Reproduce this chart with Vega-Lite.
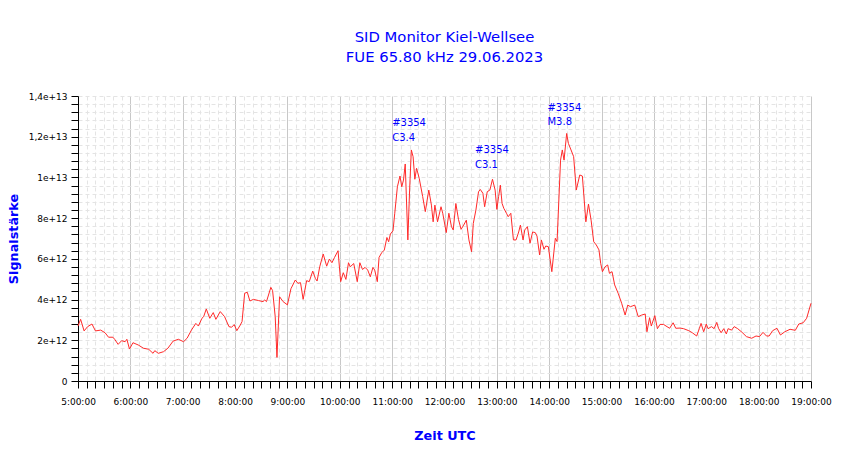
{
  "$schema": "https://vega.github.io/schema/vega-lite/v6.json",
  "autosize": {"type": "none"},
  "padding": {"left": 78, "top": 96, "right": 39, "bottom": 78},
  "width": 733,
  "height": 285,
  "background": "white",
  "config": {"view": {"stroke": null}},
  "title": {
    "text": ["SID Monitor Kiel-Wellsee", "FUE 65.80 kHz 29.06.2023"],
    "anchor": "middle",
    "frame": "group",
    "offset": 27,
    "font": "DejaVu Sans",
    "fontSize": 14.8,
    "fontWeight": "normal",
    "color": "#0000ff",
    "lineHeight": 20
  },
  "encoding": {
    "x": {
      "field": "t",
      "type": "temporal",
      "scale": {"type": "utc", "nice": false},
      "axis": {
        "title": "Zeit UTC",
        "titleFont": "DejaVu Sans",
        "titleFontSize": 12.8,
        "titleFontWeight": "bold",
        "titleColor": "#0000ff",
        "titleX": 366.5,
        "titleY": 54,
        "titleAlign": "center",
        "titleBaseline": "middle",
        "values": [
          -2208970800000, -2208970200000, -2208969600000, -2208969000000, -2208968400000, -2208967800000,
          -2208967200000, -2208966600000, -2208966000000, -2208965400000, -2208964800000, -2208964200000,
          -2208963600000, -2208963000000, -2208962400000, -2208961800000, -2208961200000, -2208960600000,
          -2208960000000, -2208959400000, -2208958800000, -2208958200000, -2208957600000, -2208957000000,
          -2208956400000, -2208955800000, -2208955200000, -2208954600000, -2208954000000, -2208953400000,
          -2208952800000, -2208952200000, -2208951600000, -2208951000000, -2208950400000, -2208949800000,
          -2208949200000, -2208948600000, -2208948000000, -2208947400000, -2208946800000, -2208946200000,
          -2208945600000, -2208945000000, -2208944400000, -2208943800000, -2208943200000, -2208942600000,
          -2208942000000, -2208941400000, -2208940800000, -2208940200000, -2208939600000, -2208939000000,
          -2208938400000, -2208937800000, -2208937200000, -2208936600000, -2208936000000, -2208935400000,
          -2208934800000, -2208934200000, -2208933600000, -2208933000000, -2208932400000, -2208931800000,
          -2208931200000, -2208930600000, -2208930000000, -2208929400000, -2208928800000, -2208928200000,
          -2208927600000, -2208927000000, -2208926400000, -2208925800000, -2208925200000, -2208924600000,
          -2208924000000, -2208923400000, -2208922800000, -2208922200000, -2208921600000, -2208921000000,
          -2208920400000
        ],
        "labelExpr": "utcminutes(datum.value) == 0 ? utcFormat(datum.value, '%-H:%M:%S') : ''",
        "labelOverlap": false,
        "labelFlush": false,
        "labelFont": "DejaVu Sans",
        "labelFontSize": 9,
        "labelColor": "black",
        "labelPadding": 9,
        "domainColor": "black",
        "tickColor": "black",
        "tickSize": 7,
        "grid": true,
        "gridColor": {"condition": {"test": "utcminutes(datum.value) == 0", "value": "#c8c8c8"}, "value": "#e4e4e4"},
        "gridDash": {"condition": {"test": "utcminutes(datum.value) == 0", "value": []}, "value": [4, 3]}
      }
    },
    "y": {
      "field": "v",
      "type": "quantitative",
      "scale": {"domain": [0, 14000000000000], "nice": false},
      "axis": {
        "title": "Signalstärke",
        "titleFont": "DejaVu Sans",
        "titleFontSize": 12.8,
        "titleFontWeight": "bold",
        "titleColor": "#0000ff",
        "titleX": -65,
        "titleY": 142.5,
        "titleAlign": "center",
        "titleBaseline": "middle",
        "values": [0, 400000000000, 800000000000, 1200000000000, 1600000000000, 2000000000000, 2400000000000, 2800000000000, 3200000000000, 3600000000000, 4000000000000, 4400000000000, 4800000000000, 5200000000000, 5600000000000, 6000000000000, 6400000000000, 6800000000000, 7200000000000, 7600000000000, 8000000000000, 8400000000000, 8800000000000, 9200000000000, 9600000000000, 10000000000000, 10400000000000, 10800000000000, 11200000000000, 11600000000000, 12000000000000, 12400000000000, 12800000000000, 13200000000000, 13600000000000, 14000000000000],
        "labelExpr": "datum.value == 0 ? '0' : (datum.value % 2000000000000 == 0 ? replace(format(datum.value, '.2~e'), '.', ',') : '')",
        "labelOverlap": false,
        "labelFont": "DejaVu Sans",
        "labelFontSize": 9,
        "labelColor": "black",
        "labelPadding": 4,
        "domainColor": "black",
        "tickColor": "black",
        "tickSize": 7,
        "grid": true,
        "gridColor": "#e4e4e4",
        "gridDash": [4, 3]
      }
    }
  },
  "layer": [
    {
      "data": {
        "values": [
          {"t":"05:00","v":2.70e12},{"t":"05:03","v":3.03e12},{"t":"05:07","v":2.46e12},{"t":"05:11","v":2.67e12},
          {"t":"05:16","v":2.80e12},{"t":"05:20","v":2.46e12},{"t":"05:26","v":2.50e12},{"t":"05:31","v":2.37e12},
          {"t":"05:35","v":2.15e12},{"t":"05:40","v":2.15e12},{"t":"05:42","v":2.05e12},{"t":"05:46","v":1.80e12},
          {"t":"05:50","v":1.98e12},{"t":"05:54","v":1.93e12},{"t":"05:56","v":2.05e12},{"t":"05:59","v":1.57e12},
          {"t":"06:03","v":1.88e12},{"t":"06:09","v":1.77e12},{"t":"06:15","v":1.61e12},{"t":"06:21","v":1.56e12},
          {"t":"06:26","v":1.36e12},{"t":"06:28","v":1.49e12},{"t":"06:32","v":1.36e12},{"t":"06:38","v":1.44e12},
          {"t":"06:43","v":1.61e12},{"t":"06:49","v":1.96e12},{"t":"06:55","v":2.05e12},{"t":"07:01","v":1.93e12},
          {"t":"07:05","v":2.10e12},{"t":"07:10","v":2.50e12},{"t":"07:15","v":2.83e12},{"t":"07:18","v":2.70e12},
          {"t":"07:22","v":3.08e12},{"t":"07:24","v":3.16e12},{"t":"07:27","v":3.54e12},{"t":"07:31","v":3.08e12},
          {"t":"07:35","v":3.36e12},{"t":"07:38","v":3.03e12},{"t":"07:43","v":3.41e12},{"t":"07:48","v":3.16e12},
          {"t":"07:53","v":2.67e12},{"t":"07:56","v":2.64e12},{"t":"07:59","v":2.77e12},{"t":"08:02","v":2.47e12},
          {"t":"08:06","v":2.75e12},{"t":"08:08","v":2.92e12},{"t":"08:11","v":4.31e12},{"t":"08:14","v":4.36e12},
          {"t":"08:17","v":3.93e12},{"t":"08:21","v":4.01e12},{"t":"08:27","v":3.95e12},{"t":"08:32","v":3.90e12},
          {"t":"08:34","v":3.98e12},{"t":"08:36","v":3.90e12},{"t":"08:41","v":4.60e12},{"t":"08:43","v":4.44e12},
          {"t":"08:46","v":3.16e12},{"t":"08:48","v":1.16e12},{"t":"08:51","v":4.14e12},{"t":"08:55","v":3.90e12},
          {"t":"09:00","v":3.74e12},{"t":"09:04","v":4.53e12},{"t":"09:09","v":4.96e12},{"t":"09:12","v":4.80e12},
          {"t":"09:15","v":4.83e12},{"t":"09:18","v":4.01e12},{"t":"09:22","v":4.93e12},{"t":"09:25","v":4.88e12},
          {"t":"09:29","v":5.40e12},{"t":"09:32","v":5.04e12},{"t":"09:34","v":4.91e12},{"t":"09:37","v":5.61e12},
          {"t":"09:41","v":6.24e12},{"t":"09:45","v":5.64e12},{"t":"09:48","v":5.99e12},{"t":"09:51","v":5.81e12},
          {"t":"09:54","v":6.07e12},{"t":"09:58","v":6.40e12},{"t":"10:01","v":4.88e12},{"t":"10:04","v":5.32e12},
          {"t":"10:07","v":4.99e12},{"t":"10:10","v":5.81e12},{"t":"10:12","v":5.61e12},{"t":"10:16","v":5.77e12},
          {"t":"10:20","v":4.88e12},{"t":"10:23","v":5.81e12},{"t":"10:26","v":5.48e12},{"t":"10:29","v":5.58e12},
          {"t":"10:32","v":5.45e12},{"t":"10:35","v":5.12e12},{"t":"10:38","v":5.58e12},{"t":"10:40","v":5.45e12},
          {"t":"10:43","v":4.88e12},{"t":"10:45","v":6.07e12},{"t":"10:48","v":6.30e12},{"t":"10:51","v":6.43e12},
          {"t":"10:54","v":7.05e12},{"t":"10:56","v":6.84e12},{"t":"10:58","v":7.22e12},{"t":"11:01","v":7.38e12},
          {"t":"11:03","v":8.24e12},{"t":"11:06","v":9.54e12},{"t":"11:09","v":10.07e12},{"t":"11:11","v":9.54e12},
          {"t":"11:13","v":9.87e12},{"t":"11:15","v":10.66e12},{"t":"11:18","v":6.93e12},{"t":"11:20","v":9.38e12},
          {"t":"11:22","v":11.35e12},{"t":"11:24","v":11.02e12},{"t":"11:26","v":9.91e12},{"t":"11:28","v":10.45e12},
          {"t":"11:31","v":9.96e12},{"t":"11:35","v":9.06e12},{"t":"11:38","v":8.32e12},{"t":"11:42","v":9.38e12},
          {"t":"11:45","v":8.64e12},{"t":"11:47","v":7.82e12},{"t":"11:49","v":8.64e12},{"t":"11:52","v":7.82e12},
          {"t":"11:56","v":8.56e12},{"t":"11:58","v":8.24e12},{"t":"12:02","v":7.29e12},{"t":"12:05","v":8.24e12},
          {"t":"12:08","v":7.58e12},{"t":"12:10","v":7.42e12},{"t":"12:13","v":8.72e12},{"t":"12:16","v":7.94e12},
          {"t":"12:19","v":7.45e12},{"t":"12:22","v":7.66e12},{"t":"12:25","v":7.90e12},{"t":"12:28","v":6.93e12},
          {"t":"12:31","v":6.35e12},{"t":"12:33","v":7.74e12},{"t":"12:36","v":8.40e12},{"t":"12:39","v":9.30e12},
          {"t":"12:41","v":9.41e12},{"t":"12:44","v":9.22e12},{"t":"12:46","v":8.56e12},{"t":"12:49","v":9.30e12},
          {"t":"12:52","v":9.38e12},{"t":"12:55","v":9.91e12},{"t":"12:58","v":9.38e12},{"t":"13:00","v":8.43e12},
          {"t":"13:02","v":9.06e12},{"t":"13:04","v":9.62e12},{"t":"13:06","v":8.72e12},{"t":"13:08","v":8.48e12},
          {"t":"13:11","v":8.24e12},{"t":"13:13","v":8.07e12},{"t":"13:16","v":8.24e12},{"t":"13:19","v":6.93e12},
          {"t":"13:22","v":6.93e12},{"t":"13:25","v":7.32e12},{"t":"13:27","v":7.66e12},{"t":"13:30","v":6.93e12},
          {"t":"13:32","v":7.42e12},{"t":"13:35","v":7.58e12},{"t":"13:38","v":6.77e12},{"t":"13:41","v":7.32e12},
          {"t":"13:44","v":7.29e12},{"t":"13:46","v":7.12e12},{"t":"13:49","v":6.19e12},{"t":"13:51","v":6.93e12},
          {"t":"13:54","v":6.47e12},{"t":"13:56","v":6.63e12},{"t":"13:59","v":6.60e12},{"t":"14:03","v":5.37e12},
          {"t":"14:07","v":7.01e12},{"t":"14:09","v":6.85e12},{"t":"14:13","v":10.85e12},{"t":"14:15","v":11.35e12},
          {"t":"14:17","v":10.85e12},{"t":"14:20","v":12.16e12},{"t":"14:22","v":11.67e12},{"t":"14:25","v":11.35e12},
          {"t":"14:28","v":11.02e12},{"t":"14:31","v":9.38e12},{"t":"14:35","v":10.12e12},{"t":"14:38","v":10.07e12},
          {"t":"14:42","v":7.82e12},{"t":"14:45","v":8.69e12},{"t":"14:48","v":7.90e12},{"t":"14:51","v":6.84e12},
          {"t":"14:54","v":6.68e12},{"t":"14:57","v":6.44e12},{"t":"14:59","v":5.78e12},{"t":"15:01","v":5.37e12},
          {"t":"15:04","v":5.61e12},{"t":"15:07","v":5.70e12},{"t":"15:09","v":5.29e12},{"t":"15:12","v":5.37e12},
          {"t":"15:15","v":4.72e12},{"t":"15:19","v":4.31e12},{"t":"15:23","v":3.82e12},{"t":"15:27","v":3.24e12},
          {"t":"15:30","v":3.73e12},{"t":"15:33","v":3.65e12},{"t":"15:35","v":3.68e12},{"t":"15:38","v":3.73e12},
          {"t":"15:42","v":3.16e12},{"t":"15:46","v":3.24e12},{"t":"15:50","v":3.29e12},{"t":"15:52","v":2.42e12},
          {"t":"15:55","v":3.11e12},{"t":"15:57","v":2.70e12},{"t":"16:01","v":3.21e12},{"t":"16:04","v":2.57e12},
          {"t":"16:07","v":2.78e12},{"t":"16:11","v":2.78e12},{"t":"16:15","v":2.67e12},{"t":"16:18","v":2.59e12},
          {"t":"16:22","v":2.86e12},{"t":"16:25","v":2.59e12},{"t":"16:30","v":2.60e12},{"t":"16:34","v":2.57e12},
          {"t":"16:40","v":2.47e12},{"t":"16:44","v":2.37e12},{"t":"16:49","v":2.21e12},{"t":"16:52","v":2.57e12},
          {"t":"16:54","v":2.83e12},{"t":"16:57","v":2.42e12},{"t":"17:00","v":2.80e12},{"t":"17:02","v":2.57e12},
          {"t":"17:06","v":2.67e12},{"t":"17:09","v":2.57e12},{"t":"17:12","v":2.88e12},{"t":"17:14","v":2.59e12},
          {"t":"17:17","v":2.37e12},{"t":"17:20","v":2.57e12},{"t":"17:23","v":2.31e12},{"t":"17:25","v":2.57e12},
          {"t":"17:29","v":2.50e12},{"t":"17:32","v":2.67e12},{"t":"17:36","v":2.57e12},{"t":"17:41","v":2.39e12},
          {"t":"17:46","v":2.18e12},{"t":"17:52","v":2.10e12},{"t":"17:57","v":2.21e12},{"t":"18:01","v":2.18e12},
          {"t":"18:05","v":2.39e12},{"t":"18:09","v":2.21e12},{"t":"18:12","v":2.21e12},{"t":"18:16","v":2.47e12},
          {"t":"18:21","v":2.59e12},{"t":"18:25","v":2.26e12},{"t":"18:30","v":2.42e12},{"t":"18:36","v":2.54e12},
          {"t":"18:42","v":2.49e12},{"t":"18:46","v":2.80e12},{"t":"18:51","v":2.86e12},{"t":"18:55","v":3.08e12},
          {"t":"19:00","v":3.82e12}
        ],
        "format": {"parse": {"t": "utc:'%H:%M'"}}
      },
      "mark": {"type": "line", "color": "#ff2a2a", "strokeWidth": 1}
    },
    {
      "data": {
        "values": [
          {"t": "11:00", "v": 12.51e12, "label": "#3354\nC3.4"},
          {"t": "12:35", "v": 11.18e12, "label": "#3354\nC3.1"},
          {"t": "13:58", "v": 13.28e12, "label": "#3354\nM3.8"}
        ],
        "format": {"parse": {"t": "utc:'%H:%M'"}}
      },
      "mark": {
        "type": "text",
        "align": "left",
        "baseline": "alphabetic",
        "lineBreak": "\n",
        "lineHeight": 14.5,
        "font": "DejaVu Sans",
        "fontSize": 10,
        "color": "#0000ff"
      },
      "encoding": {
        "text": {"field": "label", "type": "nominal"}
      }
    }
  ]
}
